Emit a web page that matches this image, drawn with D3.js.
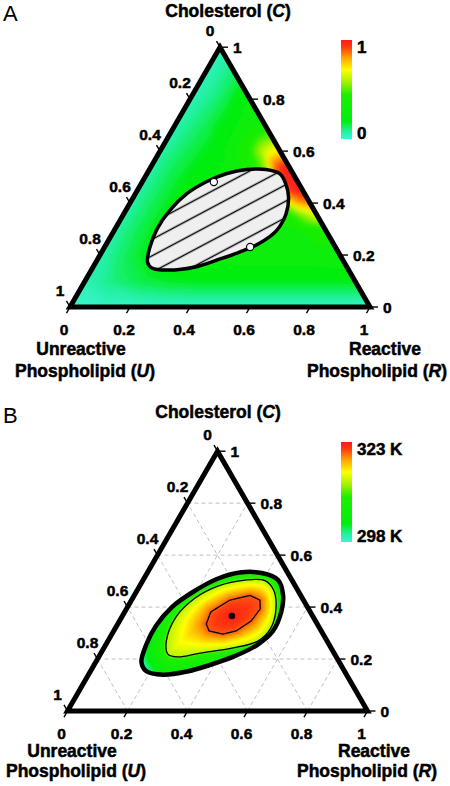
<!DOCTYPE html>
<html><head><meta charset="utf-8">
<script src="https://cdn.jsdelivr.net/npm/d3@7"></script>
<style>
body{margin:0;background:#fff;}
svg{display:block;}
text{font-family:"Liberation Sans",Arial,Helvetica,sans-serif;fill:#000;}
.bt{font-weight:bold;stroke:#000;stroke-width:0.5px;}
</style>
</head><body>
<svg id="chart" width="450" height="786"></svg>
<script>
// ---------------- DATA ----------------
const tickValues = [0, 0.2, 0.4, 0.6, 0.8, 1];
const tickLabels = ["0", "0.2", "0.4", "0.6", "0.8", "1"];
const topTitle = ["Cholesterol (", "C", ")"];
const leftTitle = ["Unreactive", "Phospholipid (", "U", ")"];
const rightTitle = ["Reactive", "Phospholipid (", "R", ")"];
const panelLetters = ["A", "B"];
const barLabelsA = ["1", "0"];
const barLabelsB = ["323 K", "298 K"];

// colour scale (0 = cyan ... 1 = red)
const colorDomain = [0, 0.08, 0.18, 0.45, 0.58, 0.7, 0.82, 0.93, 1];
const colorRange = ["#3cf5d2", "#22f0a0", "#00ee10", "#1eee00", "#a8f200", "#ffff00", "#ffa500", "#ff3a10", "#ff1a1a"];

// Panel A field samples: rows of constant C, entries along R
const fieldA_C = [0, 0.1, 0.2, 0.3, 0.4, 0.5, 0.6, 0.7, 0.8, 0.9, 1];
const fieldA_R = [0, 0.1, 0.2, 0.3, 0.4, 0.5, 0.6, 0.7, 0.8, 0.9, 1];
const fieldA_values = [
  [0.01, 0.02, 0.02, 0.03, 0.03, 0.03, 0.03, 0.03, 0.03, 0.03, 0.02],
  [0.05, 0.11, 0.15, 0.17, 0.18, 0.18, 0.18, 0.18, 0.18, 0.18],
  [0.06, 0.14, 0.21, 0.25, 0.27, 0.28, 0.28, 0.28, 0.3],
  [0.07, 0.15, 0.23, 0.27, 0.28, 0.3, 0.33, 0.42],
  [0.07, 0.15, 0.23, 0.27, 0.3, 0.48, 0.88],
  [0.07, 0.15, 0.22, 0.28, 0.48, 1.0],
  [0.07, 0.14, 0.21, 0.44, 0.74],
  [0.06, 0.13, 0.23, 0.37],
  [0.05, 0.12, 0.24],
  [0.04, 0.12],
  [0.03]
];
// extra samples near the hot spot on the C-R edge: [C, R, value]
const fieldA_extra = [
  [0.25, 0.75, 0.35], [0.35, 0.65, 0.64], [0.45, 0.55, 1.0], [0.55, 0.45, 0.97], [0.65, 0.35, 0.54],
  [0.35, 0.60, 0.52], [0.40, 0.55, 0.8], [0.45, 0.50, 0.95], [0.50, 0.45, 0.97],
  [0.55, 0.40, 0.86], [0.60, 0.35, 0.64], [0.65, 0.30, 0.46]
];
// Panel A hatched region boundary [C, R] and marked points
const regionA = [[0.173,0.172],[0.150,0.198],[0.142,0.256],[0.154,0.340],[0.181,0.400],[0.212,0.461],[0.246,0.510],[0.293,0.541],[0.358,0.541],[0.423,0.517],[0.473,0.483],[0.512,0.444],[0.529,0.389],[0.529,0.325],[0.514,0.266],[0.483,0.215],[0.437,0.172],[0.373,0.147],[0.300,0.140],[0.231,0.151]];
const dotsA = [[0.481, 0.239], [0.231, 0.485]];

// Panel B contours [C, R]
const outerB = [[0.189,0.152],[0.154,0.185],[0.140,0.248],[0.152,0.322],[0.177,0.386],[0.210,0.450],[0.254,0.505],[0.308,0.531],[0.381,0.522],[0.447,0.495],[0.504,0.450],[0.531,0.382],[0.533,0.308],[0.508,0.244],[0.458,0.189],[0.400,0.148],[0.327,0.131],[0.254,0.135]];
const middleB = [[0.219,0.225],[0.269,0.195],[0.362,0.181],[0.435,0.208],[0.481,0.261],[0.504,0.340],[0.502,0.407],[0.466,0.454],[0.396,0.497],[0.319,0.518],[0.269,0.500],[0.242,0.427],[0.223,0.330],[0.208,0.264]];
const innerB = [[0.335,0.295],[0.381,0.287],[0.427,0.328],[0.445,0.386],[0.427,0.428],[0.393,0.446],[0.346,0.439],[0.308,0.408],[0.296,0.370],[0.308,0.318]];
const peakB = [0.366, 0.365];
// colour levels (colour-bar units): just outside / inside the middle contour, inner contour, peak
const levelsB = {outside: 0.5, middle: 0.6, inner: 0.9, peak: 1.0, tip: 0.06};

// ---------------- LAYOUT ----------------
const SQ = Math.sqrt(3) / 2;
const svg = d3.select("#chart");
const defs = svg.append("defs");
const color = d3.scaleLinear().domain(colorDomain).range(colorRange).interpolate(d3.interpolateRgb).clamp(true);
const LUT = d3.range(512).map(i => d3.rgb(color(i / 511)));

function makeProj(p) {
  const xs = d3.scaleLinear().domain([0, 1]).range([p.x0, p.x0 + p.side]);
  const ys = d3.scaleLinear().domain([0, 1]).range([p.y0, p.y0 - p.side * SQ]);
  return d => [xs(d[1] + d[0] / 2), ys(d[0])];
}

function imageFromValues(vals, W, H) {
  const cv = document.createElement("canvas");
  cv.width = W; cv.height = H;
  const ctx = cv.getContext("2d");
  const img = ctx.createImageData(W, H);
  for (let i = 0; i < W * H; i++) {
    const v = vals[i];
    const c = LUT[Math.max(0, Math.min(511, Math.round(v * 511)))];
    img.data[i*4] = c.r; img.data[i*4+1] = c.g; img.data[i*4+2] = c.b; img.data[i*4+3] = 255;
  }
  ctx.putImageData(img, 0, 0);
  return cv.toDataURL();
}

function colorBar(g, x, y, h, labels, id) {
  const grad = defs.append("linearGradient").attr("id", id).attr("x1", 0).attr("y1", 1).attr("x2", 0).attr("y2", 0);
  colorDomain.forEach((d, i) => grad.append("stop").attr("offset", d).attr("stop-color", colorRange[i]));
  g.append("rect").attr("x", x).attr("y", y).attr("width", 11).attr("height", h).attr("fill", `url(#${id})`);
  g.append("text").attr("class", "bt").attr("x", x + 16).attr("y", y + 13).attr("font-size", 17).text(labels[0]);
  g.append("text").attr("class", "bt").attr("x", x + 16).attr("y", y + h - 0.5).attr("font-size", 17).text(labels[1]);
}

function drawFrame(g, proj, cfg) {
  const tri = [proj([0, 0]), proj([0, 1]), proj([1, 0])];
  g.append("path").attr("d", "M" + tri.join("L") + "Z")
    .attr("fill", "none").attr("stroke", "#000").attr("stroke-width", 5).attr("stroke-linejoin", "miter");
  const L = 7;
  const tg = g.append("g").attr("stroke", "#000").attr("stroke-width", 1.4);
  const lg = g.append("g").attr("font-size", 15.5);
  tickValues.forEach((t, i) => {
    let p = proj([0, t]);
    tg.append("line").attr("x1", p[0]).attr("y1", p[1]).attr("x2", p[0] - 0.5 * L).attr("y2", p[1] + SQ * L);
    lg.append("text").attr("class", "bt").attr("x", p[0] - 6).attr("y", p[1] + 28).attr("text-anchor", "middle").text(tickLabels[i]);
    p = proj([t, 1 - t]);
    tg.append("line").attr("x1", p[0]).attr("y1", p[1]).attr("x2", p[0] + L + 1).attr("y2", p[1]);
    lg.append("text").attr("class", "bt").attr("x", p[0] + 13).attr("y", p[1]).attr("dy", "0.36em").text(tickLabels[i]);
    p = proj([1 - t, 0]);
    tg.append("line").attr("x1", p[0]).attr("y1", p[1]).attr("x2", p[0] - 0.5 * L).attr("y2", p[1] - SQ * L);
    lg.append("text").attr("class", "bt").attr("x", p[0] - 10).attr("y", p[1] - 17).attr("dy", "0.36em").attr("text-anchor", "middle").text(tickLabels[i]);
  });
  const fs = 17.5;
  const t1 = g.append("text").attr("class", "bt").attr("x", cfg.top[0]).attr("y", cfg.top[1]).attr("text-anchor", "middle").attr("font-size", fs);
  t1.append("tspan").text(topTitle[0]); t1.append("tspan").attr("font-style", "italic").text(topTitle[1]); t1.append("tspan").text(topTitle[2]);
  g.append("text").attr("class", "bt").attr("x", cfg.left[0]).attr("y", cfg.left[1]).attr("text-anchor", "middle").attr("font-size", fs).text(leftTitle[0]);
  const t2 = g.append("text").attr("class", "bt").attr("x", cfg.left[2]).attr("y", cfg.left[3]).attr("text-anchor", "middle").attr("font-size", fs);
  t2.append("tspan").text(leftTitle[1]); t2.append("tspan").attr("font-style", "italic").text(leftTitle[2]); t2.append("tspan").text(leftTitle[3]);
  g.append("text").attr("class", "bt").attr("x", cfg.right[0]).attr("y", cfg.right[1]).attr("text-anchor", "middle").attr("font-size", fs).text(rightTitle[0]);
  const t3 = g.append("text").attr("class", "bt").attr("x", cfg.right[2]).attr("y", cfg.right[3]).attr("text-anchor", "middle").attr("font-size", fs);
  t3.append("tspan").text(rightTitle[1]); t3.append("tspan").attr("font-style", "italic").text(rightTitle[2]); t3.append("tspan").text(rightTitle[3]);
  g.append("text").attr("x", cfg.letter[0]).attr("y", cfg.letter[1]).attr("font-size", 22).text(cfg.letter[2]);
}

// ---------------- PANEL A ----------------
(function () {
  const pA = {x0: 70, y0: 307, side: 300};
  const proj = makeProj(pA);
  const g = svg.append("g");
  const tri = [proj([0, 0]), proj([0, 1]), proj([1, 0])];
  defs.append("clipPath").attr("id", "clipA").append("path").attr("d", "M" + tri.join("L") + "Z");
  defs.append("filter").attr("id", "blurA").attr("x", "-5%").attr("y", "-5%").attr("width", "110%").attr("height", "110%")
    .append("feGaussianBlur").attr("stdDeviation", 2.5);

  const samples = [];
  fieldA_values.forEach((row, i) => row.forEach((v, j) => samples.push({c: fieldA_C[i], r: fieldA_R[j], v})));
  fieldA_extra.forEach(d => samples.push({c: d[0], r: d[1], v: d[2]}));
  const pts = samples.map(s => proj([s.c, s.r]));
  const del = d3.Delaunay.from(pts);
  const T = del.triangles;
  const X0 = 55, Y0 = 32, W = 330, H = 290;
  const vals = new Float32Array(W * H).fill(NaN);
  const ext = new Float32Array(W * H).fill(NaN);
  const best = new Float32Array(W * H).fill(-1e9);
  for (let pass = 0; pass < 2; pass++) {
    for (let k = 0; k < T.length; k += 3) {
      const a = pts[T[k]], b = pts[T[k+1]], c = pts[T[k+2]];
      const va = samples[T[k]].v, vb = samples[T[k+1]].v, vc = samples[T[k+2]].v;
      const den = (b[1] - c[1]) * (a[0] - c[0]) + (c[0] - b[0]) * (a[1] - c[1]);
      if (Math.abs(den) < 2) continue;
      const m = pass ? 12 : 1;
      const xmin = Math.max(0, Math.floor(Math.min(a[0], b[0], c[0]) - X0 - m)), xmax = Math.min(W - 1, Math.ceil(Math.max(a[0], b[0], c[0]) - X0 + m));
      const ymin = Math.max(0, Math.floor(Math.min(a[1], b[1], c[1]) - Y0 - m)), ymax = Math.min(H - 1, Math.ceil(Math.max(a[1], b[1], c[1]) - Y0 + m));
      for (let py = ymin; py <= ymax; py++) for (let px = xmin; px <= xmax; px++) {
        const x = px + X0 + 0.5, y = py + Y0 + 0.5;
        const l1 = ((b[1] - c[1]) * (x - c[0]) + (c[0] - b[0]) * (y - c[1])) / den;
        const l2 = ((c[1] - a[1]) * (x - c[0]) + (a[0] - c[0]) * (y - c[1])) / den;
        const l3 = 1 - l1 - l2;
        const mn = Math.min(l1, l2, l3);
        const idx = py * W + px;
        const val = l1 * va + l2 * vb + l3 * vc;
        if (pass === 0) {
          if (mn >= -1e-6 && isNaN(vals[idx])) vals[idx] = val;
        } else if (isNaN(vals[idx]) && mn >= -0.8 && mn > best[idx]) {
          best[idx] = mn; ext[idx] = val;
        }
      }
    }
  }
  for (let i = 0; i < W * H; i++) if (isNaN(vals[i])) vals[i] = isNaN(ext[i]) ? 0.03 : Math.max(0, Math.min(1, ext[i]));
  const url = imageFromValues(vals, W, H);
  g.append("g").attr("clip-path", "url(#clipA)")
    .append("image").attr("x", X0).attr("y", Y0).attr("width", W).attr("height", H).attr("href", url).attr("filter", "url(#blurA)");

  const pat = defs.append("pattern").attr("id", "hatchA").attr("patternUnits", "userSpaceOnUse")
    .attr("width", 40).attr("height", 14.5).attr("patternTransform", "rotate(-28)");
  pat.append("rect").attr("width", 40).attr("height", 14.5).attr("fill", "#efefef");
  pat.append("line").attr("x1", 0).attr("x2", 40).attr("y1", 7.25).attr("y2", 7.25).attr("stroke", "#000").attr("stroke-width", 1.3);
  const line = d3.line().curve(d3.curveCatmullRomClosed.alpha(0.5));
  g.append("path").attr("d", line(regionA.map(proj))).attr("fill", "url(#hatchA)").attr("stroke", "#000").attr("stroke-width", 3.5);
  g.selectAll(".dotA").data(dotsA).join("circle").attr("cx", d => proj(d)[0]).attr("cy", d => proj(d)[1]).attr("r", 3.6)
    .attr("fill", "#fff").attr("stroke", "#000").attr("stroke-width", 1.1);

  drawFrame(g, proj, {top: [228, 16.5], left: [81, 355, 85, 377], right: [385, 355, 377, 377], letter: [3, 21, panelLetters[0]]});
  colorBar(g, 341, 40, 99, barLabelsA, "gradA");
})();

// ---------------- PANEL B ----------------
(function () {
  const pB = {x0: 67.5, y0: 711, side: 300};
  const proj = makeProj(pB);
  const g = svg.append("g");
  const grid = g.append("g").attr("stroke", "#b8b8b8").attr("stroke-width", 0.9).attr("stroke-dasharray", "4,3").attr("fill", "none");
  tickValues.slice(1, 5).forEach(k => {
    const segs = [[[k, 0], [k, 1 - k]], [[0, k], [1 - k, k]], [[0, 1 - k], [1 - k, 0]]];
    segs.forEach(s => {
      const a = proj(s[0]), b = proj(s[1]);
      grid.append("line").attr("x1", a[0]).attr("y1", a[1]).attr("x2", b[0]).attr("y2", b[1]);
    });
  });

  const smooth = d3.line().curve(d3.curveCatmullRomClosed.alpha(0.5));
  const lin = d3.line().curve(d3.curveLinearClosed);
  const outerD = smooth(outerB.map(proj)), middleD = smooth(middleB.map(proj)), innerD = lin(innerB.map(proj));
  defs.append("clipPath").attr("id", "clipB").append("path").attr("d", outerD);

  const fieldG = g.append("g").attr("clip-path", "url(#clipB)");
  const middleP = g.append("path").attr("d", middleD).attr("fill", "none").attr("stroke", "#000").attr("stroke-width", 1.3);
  const innerP = g.append("path").attr("d", innerD).attr("fill", "none").attr("stroke", "#000").attr("stroke-width", 1.3);
  const outerP = g.append("path").attr("d", outerD).attr("fill", "none").attr("stroke", "#000").attr("stroke-width", 4.5);
  const pk = proj(peakB);
  g.append("circle").attr("cx", pk[0]).attr("cy", pk[1]).attr("r", 3.2).attr("fill", "#000");

  function sample(pathSel, n) {
    const node = pathSel.node(), L = node.getTotalLength();
    return d3.range(n).map(i => { const q = node.getPointAtLength(L * i / n); return [q.x, q.y]; });
  }
  const oS = sample(outerP, 240), mS = sample(middleP, 240), iS = sample(innerP, 200);
  function dist(poly, x, y) {
    let best = Infinity;
    for (let i = 0; i < poly.length; i++) {
      const a = poly[i], b = poly[(i + 1) % poly.length];
      const dx = b[0] - a[0], dy = b[1] - a[1];
      let t = ((x - a[0]) * dx + (y - a[1]) * dy) / (dx * dx + dy * dy || 1);
      t = Math.max(0, Math.min(1, t));
      const ex = a[0] + t * dx - x, ey = a[1] + t * dy - y;
      const d = ex * ex + ey * ey;
      if (d < best) best = d;
    }
    return Math.sqrt(best);
  }
  const xs = oS.map(p => p[0]), ys = oS.map(p => p[1]);
  const X0 = Math.floor(d3.min(xs)) - 4, Y0 = Math.floor(d3.min(ys)) - 4;
  const W = Math.ceil(d3.max(xs)) + 4 - X0, H = Math.ceil(d3.max(ys)) + 4 - Y0;
  const vals = new Float32Array(W * H);
  for (let py = 0; py < H; py++) for (let px = 0; px < W; px++) {
    const x = X0 + px + 0.5, y = Y0 + py + 0.5;
    const dM = dist(mS, x, y);
    let v;
    if (!d3.polygonContains(mS, [x, y])) {
      v = levelsB.outside - (levelsB.outside - levelsB.tip) * Math.min(1, dM / 27);
    } else {
      const dI = dist(iS, x, y);
      if (!d3.polygonContains(iS, [x, y])) {
        v = levelsB.middle + (levelsB.inner - levelsB.middle) * dM / (dM + dI);
      } else {
        const dC = Math.hypot(x - pk[0], y - pk[1]);
        v = levelsB.inner + (levelsB.peak - levelsB.inner) * dI / (dI + dC);
      }
    }
    vals[py * W + px] = v;
  }
  fieldG.append("image").attr("x", X0).attr("y", Y0).attr("width", W).attr("height", H).attr("href", imageFromValues(vals, W, H));
  middleP.raise(); innerP.raise(); outerP.raise(); g.select("circle").raise();

  drawFrame(g, proj, {top: [218, 418], left: [72, 757, 76, 777], right: [374, 757, 367, 777], letter: [3, 423, panelLetters[1]]});
  colorBar(g, 341, 442, 100, barLabelsB, "gradB");
})();
</script>
</body></html>
